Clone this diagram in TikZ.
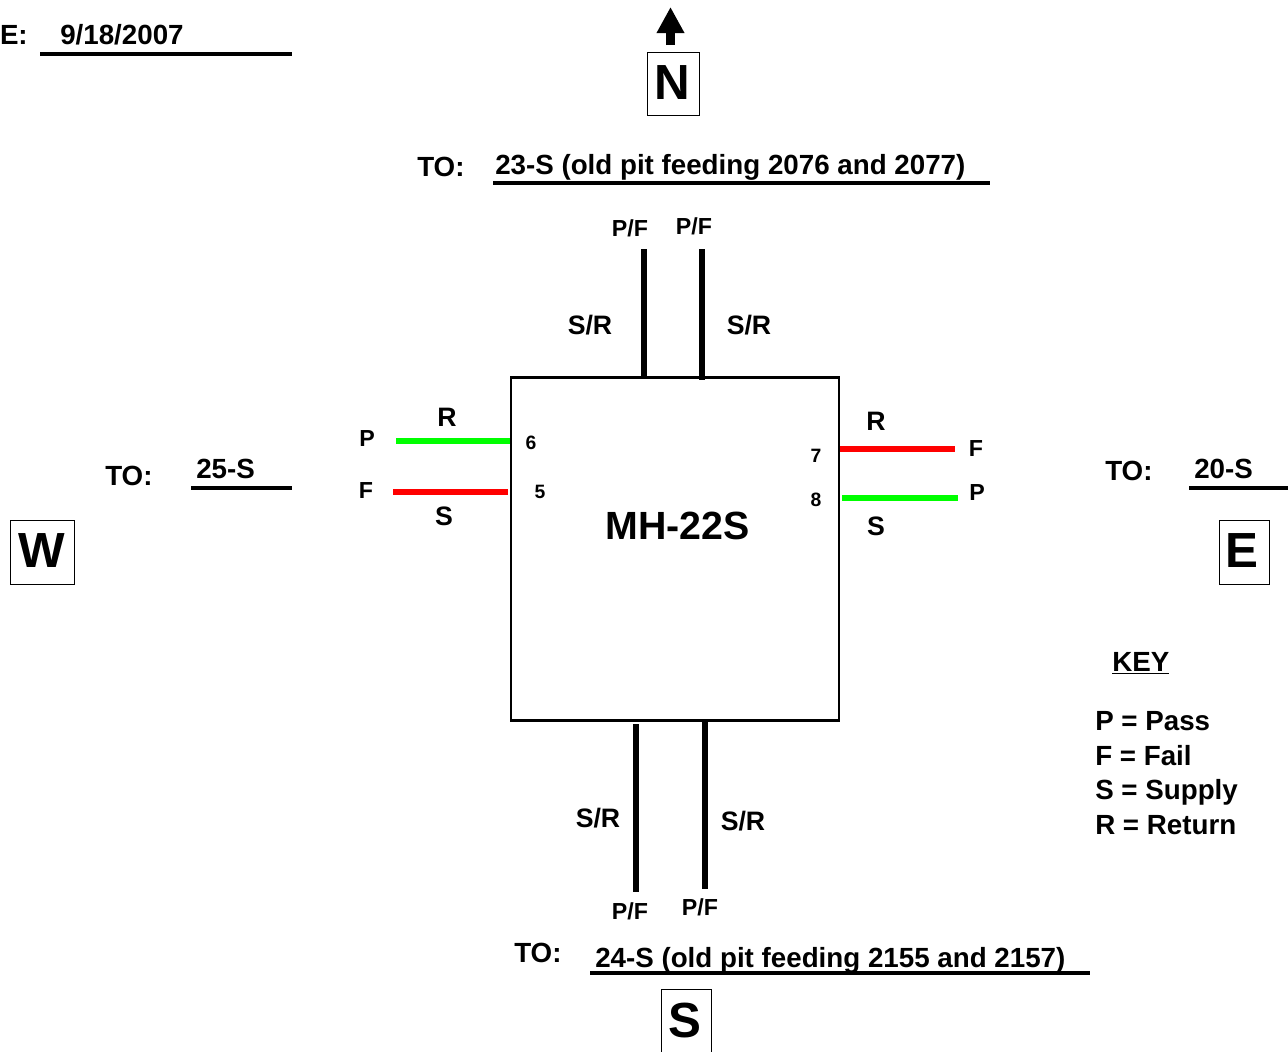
\documentclass[tikz,border=0pt]{standalone}
\usepackage{fontspec}
\setmainfont{Liberation Sans}
\usetikzlibrary{arrows.meta}
\newcommand{\dirlet}[3]{\raisebox{#2}{\kern#1\relax #3}}
\tikzset{
lbl/.style={anchor=base,inner sep=0pt,font=\bfseries\fontsize{#1}{#1}\selectfont},
lbl/.default=17.4,
dirbox/.style={draw,line width=0.75pt,inner sep=0pt,anchor=center,font=\bfseries\fontsize{37}{37}\selectfont},
wire/.style={line width=3pt},
passwire/.style={line width=4.5pt,color={rgb,255:red,0;green,255;blue,0}},
failwire/.style={line width=4.5pt,red},
}
\begin{document}
\begin{tikzpicture}[x=0.75pt,y=-0.75pt]
\useasboundingbox (0,0) rectangle (1288,1051);
\node[draw,line width=1.9pt,minimum width=246pt,minimum height=257pt,inner sep=0pt] (mh) at (675,549) {};
\node[lbl=29.5] (mhname) at (677.5,539) {MH-22S};
%direction boxes
\node[dirbox,minimum width=39pt,minimum height=47pt] (north) at (673.5,84) {\dirlet{-2pt}{1.5pt}{N}};
\node[dirbox,minimum width=47.5pt,minimum height=47.5pt] (west) at (42.5,552.5) {\dirlet{-1.5pt}{3pt}{W}};
\node[dirbox,minimum width=37.5pt,minimum height=47.5pt] (east) at (1244,552.5) {\dirlet{-2.5pt}{3pt}{E}};
\node[dirbox,minimum width=37.5pt,minimum height=54pt] (south) at (686,1025) {\dirlet{-1.5pt}{7pt}{S}};
\coordinate (ntail) at (670.5,45);
\coordinate (ntip) at (670.5,7);
\draw[line width=6.75pt,-{Triangle[length=19.5pt,width=19.5pt]}] (ntail)--(ntip);
%headings
\node[lbl=20.8,anchor=base east] (datelbl) at (28,44) {E:};
\node[lbl=20.8,anchor=base west] (datetxt) at (60,44) {9/18/2007};
\coordinate (d1) at (40,54);\coordinate (d2) at (292,54);
\draw[wire] (d1)--(d2);
\node[lbl=20.8,anchor=base west] (tonlbl) at (417,176) {TO:};
\node[lbl=20.8,anchor=base west] (tontxt) at (495,174) {23-S (old pit feeding 2076 and 2077)};
\coordinate (n1) at (493,183);\coordinate (n2) at (990,183);
\draw[wire] (n1)--(n2);
\node[lbl=20.8,anchor=base west] (towlbl) at (105,485) {TO:};
\node[lbl=20.8,anchor=base west] (towtxt) at (196,478) {25-S};
\coordinate (w1) at (191,488);\coordinate (w2) at (292,488);
\draw[wire] (w1)--(w2);
\node[lbl=20.8,anchor=base west] (toelbl) at (1105,480) {TO:};
\node[lbl=20.8,anchor=base west] (toetxt) at (1194,478) {20-S};
\coordinate (e1) at (1189,488);\coordinate (e2) at (1288,488);
\draw[wire] (e1)--(e2);
\node[lbl=20.8,anchor=base west] (toslbl) at (514,962) {TO:};
\node[lbl=20.8,anchor=base west] (tostxt) at (595,967) {24-S (old pit feeding 2155 and 2157)};
\coordinate (s1) at (590,973);\coordinate (s2) at (1090,973);
\draw[wire] (s1)--(s2);
%top and bottom wires
\coordinate (t1) at (644,249);\coordinate (t1b) at (644,377);
\coordinate (t2) at (702,249);\coordinate (t2b) at (702,380);
\coordinate (b1) at (636,724);\coordinate (b1b) at (636,892);
\coordinate (b2) at (705,722);\coordinate (b2b) at (705,889);
\draw[line width=4pt] (t1)--(t1b);
\draw[line width=4pt] (t2)--(t2b);
\draw[line width=4pt] (b1)--(b1b);
\draw[line width=4pt] (b2)--(b2b);
\node[lbl] (tpf1) at (630,236) {P/F};
\node[lbl] (tpf2) at (694,234) {P/F};
\node[lbl=20] (tsr1) at (590,334) {S/R};
\node[lbl=20] (tsr2) at (749,334) {S/R};
\node[lbl=20] (bsr1) at (598,827) {S/R};
\node[lbl=20] (bsr2) at (743,830) {S/R};
\node[lbl] (bpf1) at (630,919) {P/F};
\node[lbl] (bpf2) at (700,915) {P/F};
%side wires
\coordinate (l1) at (396,440.5);\coordinate (l1b) at (510,440.5);
\coordinate (l2) at (393,492);\coordinate (l2b) at (508,492);
\coordinate (r1) at (840,449);\coordinate (r1b) at (955,449);
\coordinate (r2) at (842,498);\coordinate (r2b) at (958,498);
\draw[passwire] (l1)--(l1b);
\draw[failwire] (l2)--(l2b);
\draw[failwire] (r1)--(r1b);
\draw[passwire] (r2)--(r2b);
\node[lbl] (lp) at (367,446) {P};
\node[lbl] (lf) at (366,498) {F};
\node[lbl=20] (lr) at (447,426) {R};
\node[lbl=20] (ls) at (444,525) {S};
\node[lbl=14.5] (six) at (531,449) {6};
\node[lbl=14.5] (five) at (540,498) {5};
\node[lbl=14.5] (seven) at (816,462) {7};
\node[lbl=14.5] (eight) at (816,506) {8};
\node[lbl=20] (rr) at (876,430) {R};
\node[lbl=20] (rs) at (876,535) {S};
\node[lbl] (rf) at (976,456) {F};
\node[lbl] (rp) at (977,500) {P};
%key
\node[lbl=20.8,anchor=base west] (keyhd) at (1112,671) {\underline{KEY}};
\node[lbl=20.8,anchor=base west] (keyp) at (1095,730) {P = Pass};
\node[lbl=20.8,anchor=base west] (keyf) at (1095,765) {F = Fail};
\node[lbl=20.8,anchor=base west] (keys) at (1095,799) {S = Supply};
\node[lbl=20.8,anchor=base west] (keyr) at (1095,834) {R = Return};
\end{tikzpicture}
\end{document}
